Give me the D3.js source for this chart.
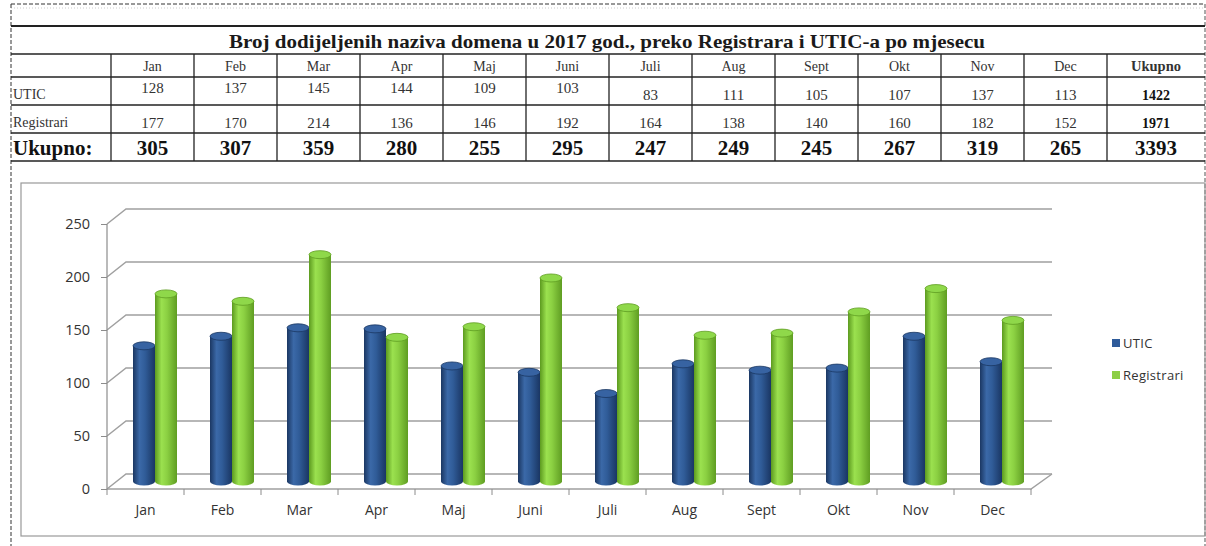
<!DOCTYPE html>
<html>
<head>
<meta charset="utf-8">
<script src="https://cdn.jsdelivr.net/npm/d3@7"></script>
<style>
  html, body { margin: 0; padding: 0; background: #fff; }
  svg { display: block; }
</style>
</head>
<body>
<svg id="chart" width="1206" height="546"></svg>
<script>
/* Domene 2017 - tabela + 3D stubicasti grafikon (UTIC vs Registrari po mjesecima) */
const months = ["Jan", "Feb", "Mar", "Apr", "Maj", "Juni", "Juli", "Aug", "Sept", "Okt", "Nov", "Dec"];
const utic = [128, 137, 145, 144, 109, 103, 83, 111, 105, 107, 137, 113];
const registrari = [177, 170, 214, 136, 146, 192, 164, 138, 140, 160, 182, 152];
const ukupno = [305, 307, 359, 280, 255, 295, 247, 249, 245, 267, 319, 265];
const rowTotals = [1422, 1971, 3393];
const rowLabels = ["UTIC", "Registrari", "Ukupno:"];
const yTicks = [0, 50, 100, 150, 200, 250];
const title = "Broj dodijeljenih naziva domena u 2017 god., preko Registrara i UTIC-a po mjesecu";

const svg = d3.select("#chart");
const serif = "'Liberation Serif', 'DejaVu Serif', serif";
const sans = "'Open Sans', 'Liberation Sans', sans-serif";

// ---------- page frame ----------
svg.append("line").attr("x1", 11).attr("x2", 1205).attr("y1", 4).attr("y2", 4)
    .attr("stroke", "#333").attr("stroke-dasharray", "4,2");
svg.append("line").attr("x1", 11).attr("x2", 1205).attr("y1", 8).attr("y2", 8)
    .attr("stroke", "#ccc").attr("stroke-dasharray", "1,2");
svg.append("line").attr("x1", 11).attr("x2", 11).attr("y1", 4).attr("y2", 546)
    .attr("stroke", "#333").attr("stroke-dasharray", "4,2");
svg.append("line").attr("x1", 1205).attr("x2", 1205).attr("y1", 4).attr("y2", 546)
    .attr("stroke", "#555").attr("stroke-dasharray", "4,2");

// ---------- table ----------
const tbl = svg.append("g");
const col = d3.scaleBand().domain(months).range([111, 1107]);
const totX0 = 1107, totX1 = 1205;
const rowY = [26, 54, 77, 105, 133, 161];
const cx = m => col(m) + col.bandwidth() / 2;
const totCx = (totX0 + totX1) / 2;

rowY.forEach((y, i) => {
    tbl.append("line").attr("x1", 11).attr("x2", 1205).attr("y1", y).attr("y2", y)
        .attr("stroke", "#222").attr("stroke-width", i === 0 ? 2 : 1.3);
});
[111, ...months.map(m => col(m) + col.bandwidth())].forEach(x => {
    tbl.append("line").attr("x1", x).attr("x2", x).attr("y1", 54).attr("y2", 161)
        .attr("stroke", "#222").attr("stroke-width", 1.3);
});

tbl.append("text").attr("x", 229).attr("y", 48)
    .attr("textLength", 756).attr("lengthAdjust", "spacingAndGlyphs")
    .attr("font-family", serif).attr("font-weight", "bold").attr("font-size", 19)
    .attr("fill", "#1a1a1a").text(title);

// header
tbl.selectAll("text.hdr").data(months).join("text").attr("class", "hdr")
    .attr("x", d => cx(d)).attr("y", 71)
    .attr("text-anchor", "middle").attr("font-family", serif).attr("font-size", 14)
    .attr("fill", "#333").text(d => d);
tbl.append("text").attr("x", totCx).attr("y", 71).attr("text-anchor", "middle")
    .attr("font-family", serif).attr("font-weight", "bold").attr("font-size", 14.5)
    .attr("fill", "#333").text("Ukupno");

// row labels
tbl.append("text").attr("x", 13).attr("y", 99).attr("font-family", serif).attr("font-size", 14)
    .attr("fill", "#333").text(rowLabels[0]);
tbl.append("text").attr("x", 13).attr("y", 127).attr("font-family", serif).attr("font-size", 14)
    .attr("fill", "#333").text(rowLabels[1]);
tbl.append("text").attr("x", 13).attr("y", 155).attr("font-family", serif).attr("font-weight", "bold")
    .attr("font-size", 21).attr("fill", "#111").text(rowLabels[2]);

// values
tbl.selectAll("text.u").data(utic).join("text").attr("class", "u")
    .attr("x", (d, i) => cx(months[i]))
    .attr("y", (d, i) => i < 6 ? 93 : 100)
    .attr("text-anchor", "middle").attr("font-family", serif).attr("font-size", 15)
    .attr("fill", "#333").text(d => d);
tbl.selectAll("text.r").data(registrari).join("text").attr("class", "r")
    .attr("x", (d, i) => cx(months[i])).attr("y", 128)
    .attr("text-anchor", "middle").attr("font-family", serif).attr("font-size", 15)
    .attr("fill", "#333").text(d => d);
tbl.selectAll("text.t").data(ukupno).join("text").attr("class", "t")
    .attr("x", (d, i) => cx(months[i])).attr("y", 155)
    .attr("text-anchor", "middle").attr("font-family", serif).attr("font-weight", "bold")
    .attr("font-size", 21).attr("fill", "#111").text(d => d);
tbl.selectAll("text.tot").data(rowTotals).join("text").attr("class", "tot")
    .attr("x", totCx).attr("y", (d, i) => [100, 128, 155][i])
    .attr("text-anchor", "middle").attr("font-family", serif).attr("font-weight", "bold")
    .attr("font-size", (d, i) => i === 2 ? 21 : 14).attr("fill", "#111").text(d => d);

// ---------- chart ----------
svg.append("rect").attr("x", 21).attr("y", 183).attr("width", 1184).attr("height", 353)
    .attr("fill", "none").attr("stroke", "#999").attr("stroke-width", 1.2);

const x = d3.scaleBand().domain(months).range([107, 1031]);
const y = d3.scaleLinear().domain([0, 250]).range([489, 224]);
const DX = 19, DY = -15;          // depth offset of the back wall
const MX = DX / 2, MY = DY / 2;   // bars stand in the middle of the floor
const gridColor = "#a0a0a0";

const walls = svg.append("g");
// floor outline
walls.append("path")
    .attr("d", `M${x.range()[0]},${y(0)} L${x.range()[1]},${y(0)} L${x.range()[1] + DX + 2},${y(0) + DY}`)
    .attr("fill", "none").attr("stroke", gridColor).attr("stroke-width", 1.5);
// gridlines on side + back wall
walls.selectAll("path.grid").data(yTicks).join("path").attr("class", "grid")
    .attr("d", d => `M${x.range()[0]},${y(d)} L${x.range()[0] + DX},${y(d) + DY} L${x.range()[1] + DX + 2},${y(d) + DY}`)
    .attr("fill", "none").attr("stroke", gridColor).attr("stroke-width", 1.5);
// front vertical axis
walls.append("line").attr("x1", 107).attr("x2", 107).attr("y1", y(250)).attr("y2", y(0))
    .attr("stroke", "#8c8c8c").attr("stroke-width", 1.2);

// y axis labels + ticks
const yAxis = svg.append("g").attr("transform", "translate(107,0)")
    .call(d3.axisLeft(y).tickValues(yTicks).tickSize(6).tickPadding(11));
yAxis.select(".domain").remove();
yAxis.selectAll("line").attr("stroke", "#8c8c8c");
yAxis.selectAll("text").attr("font-family", sans).attr("font-size", 14.5).attr("fill", "#333");

// x axis ticks + labels
const xAxis = svg.append("g").attr("transform", `translate(0,${y(0)})`)
    .call(d3.axisBottom(x).tickSize(0).tickPadding(16));
xAxis.select(".domain").remove();
xAxis.selectAll("text").attr("font-family", sans).attr("font-size", 14).attr("fill", "#333");
svg.selectAll("line.xtick").data(d3.range(months.length + 1)).join("line").attr("class", "xtick")
    .attr("x1", i => x.range()[0] + i * x.step()).attr("x2", i => x.range()[0] + i * x.step())
    .attr("y1", y(0)).attr("y2", y(0) + 6).attr("stroke", "#8c8c8c");

// gradients for cylinders
const defs = svg.append("defs");
function cylGrad(id, stops) {
    const g = defs.append("linearGradient").attr("id", id)
        .attr("x1", "0%").attr("x2", "100%").attr("y1", "0%").attr("y2", "0%");
    stops.forEach(([o, c]) => g.append("stop").attr("offset", o).attr("stop-color", c));
}
cylGrad("gBlue", [["0%", "#1b3762"], ["30%", "#3b69a8"], ["55%", "#305c98"], ["100%", "#1a3663"]]);
cylGrad("gGreen", [["0%", "#5c9a1f"], ["30%", "#9be14f"], ["55%", "#8bd042"], ["100%", "#5f9d22"]]);

const series = [
    { name: "UTIC", values: utic, fill: "url(#gBlue)", top: "#3763a2", edge: "#1b3762", key: "#2e5b9a" },
    { name: "Registrari", values: registrari, fill: "url(#gGreen)", top: "#8fd84a", edge: "#5f9d22", key: "#8dcf45" }
];
const barW = 22, ry = 4;
const pairOff = (x.bandwidth() - barW * 2) / 2;

const bars = svg.append("g");
months.forEach((m, i) => {
    series.forEach((s, k) => {
        const v = s.values[i];
        const x0 = x(m) + MX + pairOff + k * barW;
        const yb = y(0) + MY, yt = y(v) + MY;
        const g = bars.append("g");
        g.append("path")
            .attr("d", `M${x0},${yt} L${x0},${yb} A${barW / 2},${ry} 0 0 0 ${x0 + barW},${yb} L${x0 + barW},${yt} Z`)
            .attr("fill", s.fill);
        g.append("ellipse").attr("cx", x0 + barW / 2).attr("cy", yt).attr("rx", barW / 2).attr("ry", ry)
            .attr("fill", s.top).attr("stroke", s.edge).attr("stroke-width", 0.8);
    });
});

// legend
const legend = svg.append("g").attr("transform", "translate(1112,339)");
series.forEach((s, k) => {
    legend.append("rect").attr("x", 0).attr("y", k * 32).attr("width", 8).attr("height", 8).attr("fill", s.key);
    legend.append("text").attr("x", 11).attr("y", k * 32 + 9)
        .attr("font-family", sans).attr("font-size", 13).attr("letter-spacing", 0.3)
        .attr("fill", "#333").text(s.name);
});
</script>
</body>
</html>
